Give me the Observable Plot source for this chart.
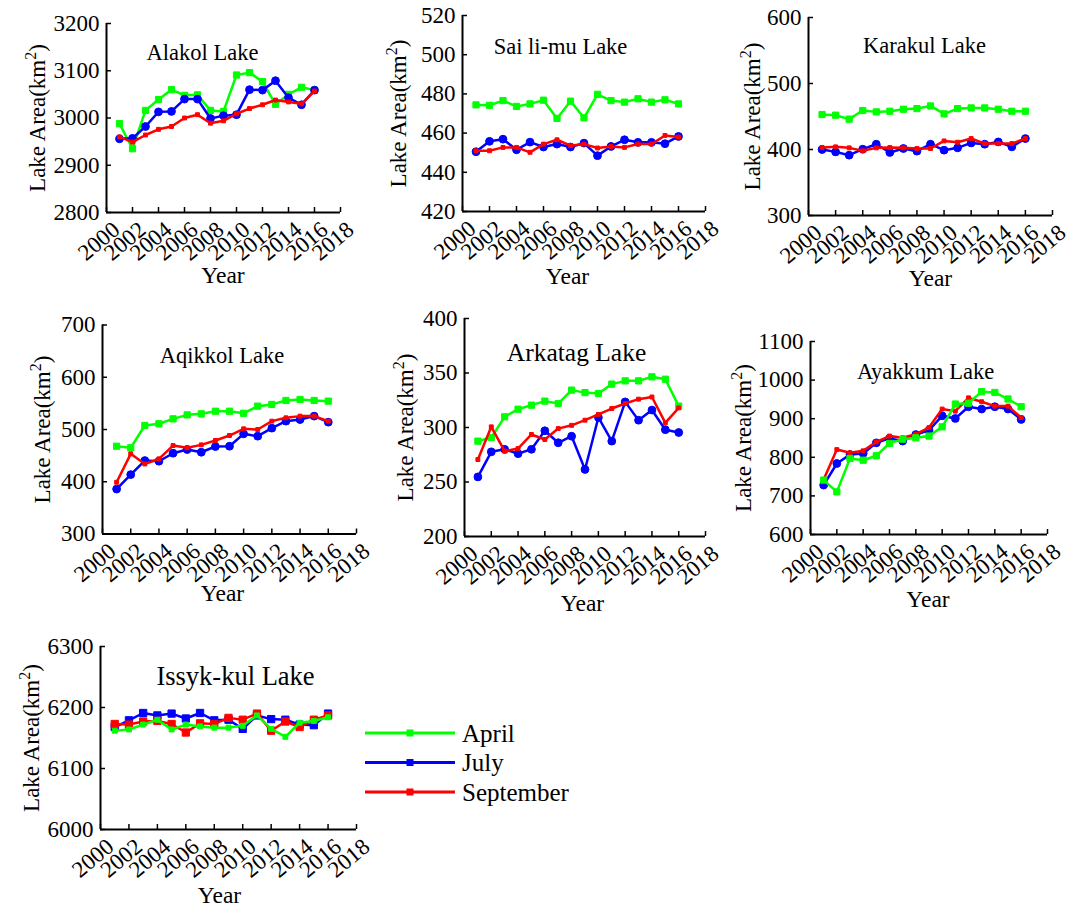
<!DOCTYPE html>
<html><head><meta charset="utf-8">
<script src="https://cdn.jsdelivr.net/npm/d3@7"></script>
<script src="https://cdn.jsdelivr.net/npm/@observablehq/plot@0.6"></script>
<style>
html,body{margin:0;padding:0;background:#fff;}
#chart{position:relative;width:1077px;height:909px;overflow:hidden;background:#fff;font-family:"Liberation Serif","Times New Roman",serif;}
#chart > div{position:absolute;}
</style></head><body><div id="chart"></div>
<script>
// ---------- DATA ----------
const years = [2001,2002,2003,2004,2005,2006,2007,2008,2009,2010,2011,2012,2013,2014,2015,2016];
const xTicks = [2000,2002,2004,2006,2008,2010,2012,2014,2016,2018];
const months = ["April","July","September"];

const alakolApril     = [2988,2935,3016,3039,3060,3048,3049,3016,3014,3091,3096,3077,3029,3050,3065,3059];
const alakolJuly      = [2956,2957,2982,3013,3014,3040,3040,2999,3005,3007,3060,3059,3079,3043,3028,3059];
const alakolSeptember = [2960,2949,2964,2976,2982,3000,3007,2989,2994,3009,3020,3028,3038,3034,3030,3057];
const alakolTicks = [2800,2900,3000,3100,3200];

const saiApril     = [474.4,474.2,476.6,473.6,474.9,476.8,467.5,476.3,467.8,479.8,476.6,475.8,477.5,475.8,477,474.9];
const saiJuly      = [450.5,455.8,456.9,451.5,455.4,452.9,454.4,452.9,454.9,448.5,453.2,456.6,455.3,455.3,454.6,458.3];
const saiSeptember = [451,451,452.7,452.7,450.2,454.4,456.6,453.6,454.4,452.4,453.2,452.7,454.4,454.4,458.8,458];
const saiTicks = [420,440,460,480,500,520];

const karakulApril     = [453,452,446,459,457,458,461,462,466,454,462,463,463,461,458,458];
const karakulJuly      = [400,396.4,391.4,400.5,408,395.5,401.5,397.5,408,399,402.5,410,408,411.5,404,416.6];
const karakulSeptember = [403,404,402.5,398,402.5,403,402.5,401.5,401.5,413,411,416.6,409,409,409,416.6];
const karakulTicks = [300,400,500,600];

const aqikkolApril     = [468,465,507.7,511,520.4,528,530,535,535,531,544.7,548,555.6,557.5,555.6,554.3];
const aqikkolJuly      = [386,413.7,440.6,439.3,454.6,461.7,456.5,467.4,468,491.7,487.2,502.6,516,519,525.6,514];
const aqikkolSeptember = [399,453.4,434,443.8,469.3,464.9,470.6,479,488.5,501.3,500,516,522.4,525.6,525.6,516];
const aqikkolTicks = [300,400,500,600,700];

const arkatagApril     = [287.5,290.8,309.8,316.8,320.5,324.2,322,334.3,332,331.2,339.8,342.8,342.8,346.5,344.3,319.6];
const arkatagJuly      = [254.7,277.7,280,276,280,297,286,292,261.5,309.2,287.5,323.5,306.7,316,298,295.4];
const arkatagSeptember = [270.6,300.6,278.3,280.7,293.6,289,299,302,306.7,312,317.4,322,326,328,304.3,318];
const arkatagTicks = [200,250,300,350,400];

const ayakkumApril     = [741,710.5,797,792.5,804,836,847,850.5,855,879,938,940,970,968,951,931];
const ayakkumJuly      = [728,784,807,810,837.5,849,842,859,870,907.5,900.6,931,925,931,925,898];
const ayakkumSeptember = [742.4,820,811.6,816.8,840,855,850.5,860,877,925,919.6,954,944,932.6,932.6,903];
const ayakkumTicks = [600,700,800,900,1000,1100];

const issykApril     = [6162,6164,6172,6180,6164,6172,6169,6167,6167,6170,6187,6165,6152,6175,6178,6184];
const issykJuly      = [6168,6179,6191,6187,6190,6182,6191,6179,6180,6165,6187,6181,6180,6172,6171,6190];
const issykSeptember = [6173,6172,6177,6178,6173,6159,6174,6173,6183,6180,6190,6162,6177,6168,6180,6187];
const issykTicks = [6000,6100,6200,6300];

const lakeNames = ["Alakol Lake","Sai li-mu Lake","Karakul Lake","Aqikkol Lake","Arkatag Lake","Ayakkum Lake","Issyk-kul Lake"];
const yLabel = "Lake Area(km2)";
const xLabel = "Year";

const lakes = [
  {name: lakeNames[0], series: {April: alakolApril, July: alakolJuly, September: alakolSeptember}, yTicks: alakolTicks},
  {name: lakeNames[1], series: {April: saiApril, July: saiJuly, September: saiSeptember}, yTicks: saiTicks},
  {name: lakeNames[2], series: {April: karakulApril, July: karakulJuly, September: karakulSeptember}, yTicks: karakulTicks},
  {name: lakeNames[3], series: {April: aqikkolApril, July: aqikkolJuly, September: aqikkolSeptember}, yTicks: aqikkolTicks},
  {name: lakeNames[4], series: {April: arkatagApril, July: arkatagJuly, September: arkatagSeptember}, yTicks: arkatagTicks},
  {name: lakeNames[5], series: {April: ayakkumApril, July: ayakkumJuly, September: ayakkumSeptember}, yTicks: ayakkumTicks},
  {name: lakeNames[6], series: {April: issykApril, July: issykJuly, September: issykSeptember}, yTicks: issykTicks}
];

// ---------- STYLE / LAYOUT ----------
const colors = {April: "#00ff00", July: "#0000ff", September: "#ff0000"};
const mkDefault = {April: {symbol: "square", r: 3.5}, July: {symbol: "circle", r: 3.9}, September: {symbol: "square", r: 2.2}};
const mkIssyk   = {April: {symbol: "square", r: 2.8}, July: {symbol: "square", r: 4.1}, September: {symbol: "square", r: 4.1}};
const orderA = ["April","July","September"];
const orderB = ["July","September","April"];
const FONT = "Liberation Serif, Times New Roman, serif";

// box: [x, y, w, h]; frame: [left, right, top, bottom] (page px)
const layout = [
  {box:[0,0,360,300],    frame:[106,340,23,212],   title:[202,59,22.5],   ylab:37,  year:[222.5,282], order:orderA, mk:mkDefault},
  {box:[360,0,360,300],  frame:[462,705,15,211],   title:[560,53,22.5],   ylab:398, year:[567,283],   order:orderA, mk:mkDefault},
  {box:[720,0,357,300],  frame:[808,1052,17,215],  title:[924,52,22.5],   ylab:752, year:[930,285],   order:orderA, mk:mkDefault},
  {box:[0,300,360,320],  frame:[102,356,324.5,533.5], title:[221.5,362,22.5], ylab:42, year:[222,600], order:orderA, mk:mkDefault},
  {box:[360,300,360,320],frame:[464,705,318,536],  title:[576,360,25.5],  ylab:405, year:[582,610],   order:orderA, mk:mkDefault},
  {box:[720,300,357,320],frame:[810,1047,341,534], title:[925,378,22.5],  ylab:743, year:[927.5,606], order:orderB, mk:mkDefault},
  {box:[0,620,360,289],  frame:[100,356,646,829],  title:[235,684,26.5],  ylab:31,  year:[219,902],   order:orderB, mk:mkIssyk}
];

const chart = document.getElementById("chart");

lakes.forEach((lake, i) => {
  const L = layout[i];
  const [bx, by, bw, bh] = L.box;
  const [fl, fr, ft, fb] = L.frame;
  const pw = fr - fl, ph = fb - ft;
  const yDomain = d3.extent(lake.yTicks);
  const marks = [
    Plot.ruleX([2000], {stroke: "#000", strokeWidth: 2}),
    Plot.ruleY([yDomain[0]], {stroke: "#000", strokeWidth: 2}),
    Plot.tickY(lake.yTicks, {y: d => d, insetRight: pw - 5, stroke: "#000", strokeWidth: 1.5}),
    Plot.tickX(xTicks, {x: d => d, insetTop: ph - 5, stroke: "#000", strokeWidth: 1.5}),
    Plot.axisY(lake.yTicks, {tickSize: 0, tickPadding: 7, tickFormat: d => String(d), fontSize: 23, label: null}),
    Plot.axisX(xTicks, {tickSize: 0, tickPadding: 14, tickRotate: -40, dx: 10, tickFormat: d => String(d), fontSize: 23, label: null})
  ];
  for (const m of L.order) {
    const rows = years.map((yr, j) => ({year: yr, value: lake.series[m][j], month: m}));
    const st = L.mk[m];
    marks.push(Plot.line(rows, {x: "year", y: "value", stroke: colors[m], strokeWidth: 2.5}));
    marks.push(Plot.dot(rows, {x: "year", y: "value", symbol: st.symbol, r: st.r, fill: colors[m], stroke: colors[m], strokeWidth: 1}));
  }
  marks.push(Plot.text([lake.name], {text: d => d, frameAnchor: "top-left", dx: L.title[0] - fl, dy: L.title[1] - ft,
    textAnchor: "middle", lineAnchor: "bottom", fontSize: L.title[2], fill: "#000"}));
  marks.push(Plot.text([xLabel], {text: d => d, frameAnchor: "top-left", dx: L.year[0] - fl, dy: L.year[1] - ft,
    textAnchor: "middle", lineAnchor: "bottom", fontSize: 23.5, fill: "#000"}));
  marks.push(Plot.text([yLabel], {text: d => d, frameAnchor: "left", dx: L.ylab - fl, rotate: -90,
    textAnchor: "middle", lineAnchor: "middle", fontSize: 23, fill: "#000"}));

  const svg = Plot.plot({
    width: bw, height: bh,
    marginLeft: fl - bx, marginRight: bx + bw - fr, marginTop: ft - by, marginBottom: by + bh - fb,
    x: {domain: [2000, 2018]},
    y: {domain: yDomain},
    style: {fontFamily: FONT, fontSize: "22px", color: "#000", background: "transparent", overflow: "visible"},
    marks
  });
  // superscript for km2
  d3.select(svg).selectAll("text").filter(function() { return this.textContent === yLabel; }).each(function() {
    const t = d3.select(this);
    t.text(null);
    t.append("tspan").text("Lake Area(km");
    t.append("tspan").attr("dy", -9).attr("font-size", 16).text("2");
    t.append("tspan").attr("dy", 9).text(")");
  });
  const wrap = document.createElement("div");
  wrap.style.left = bx + "px";
  wrap.style.top = by + "px";
  wrap.appendChild(svg);
  chart.appendChild(wrap);
});

// ---------- LEGEND ----------
const legWrap = document.createElement("div");
legWrap.style.left = "350px"; legWrap.style.top = "700px";
chart.appendChild(legWrap);
const leg = d3.select(legWrap).append("svg").attr("width", 260).attr("height", 110)
  .style("font-family", FONT);
months.forEach((m, k) => {
  const y = 33 + k * 29.5;
  leg.append("line").attr("x1", 15).attr("x2", 105).attr("y1", y).attr("y2", y)
    .attr("stroke", colors[m]).attr("stroke-width", 2.8);
  leg.append("rect").attr("x", 60 - 3.5).attr("y", y - 3.5).attr("width", 7).attr("height", 7).attr("fill", colors[m]);
  leg.append("text").attr("x", 112).attr("y", y + 8.5).attr("font-size", 25).attr("fill", "#000").text(m);
});
</script></body></html>
